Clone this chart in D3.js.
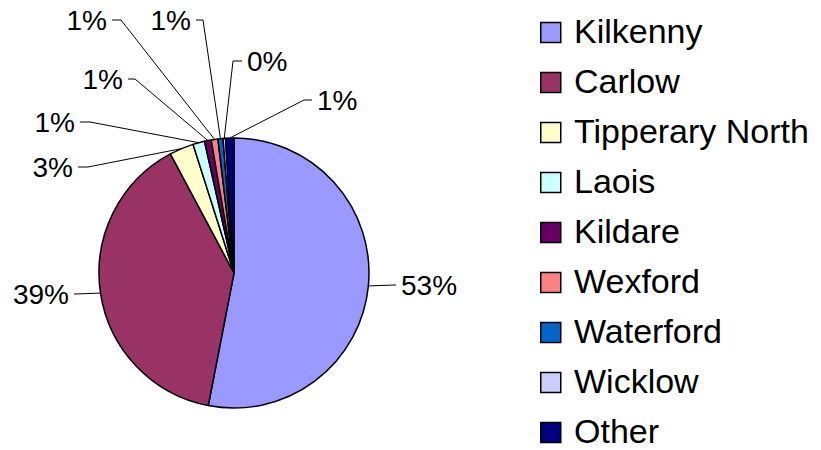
<!DOCTYPE html>
<html>
<head>
<meta charset="utf-8">
<script src="https://cdn.jsdelivr.net/npm/d3@7"></script>
<style>
  body { margin: 0; background: #fff; }
  svg text { font-family: "Liberation Sans", Arial, sans-serif; fill: #000; }
</style>
</head>
<body>
<div id="chart"></div>
<script>
// datos del gráfico
const counties = ['Kilkenny', 'Carlow', 'Tipperary North', 'Laois', 'Kildare', 'Wexford', 'Waterford', 'Wicklow', 'Other'];
const shares = [53.0, 39.1, 2.9, 1.4, 0.8, 0.8, 0.6, 0.3, 1.0];
const colors = ['#9999FF', '#993366', '#FFFFCC', '#CCFFFF', '#660066', '#FF8080', '#0066CC', '#CCCCFF', '#000080'];

const W = 821, H = 450;
const cx = 234, cy = 273, R = 135;

// posición de cada etiqueta: [x texto, y centro, codo x, anclaje]
const labelLayout = [
  [401, 285, 395, 'start'],
  [69, 294, 75, 'end'],
  [73, 167, 88, 'end'],
  [75, 122, 90, 'end'],
  [123, 79, 135, 'end'],
  [107, 20, 121, 'end'],
  [191, 20, 203, 'end'],
  [247, 61, 233, 'start'],
  [317, 100, 304, 'start']
];

const svg = d3.select('#chart').append('svg')
  .attr('width', W).attr('height', H);

const rows = counties.map((c, i) => ({ name: c, value: shares[i], color: colors[i] }));
const total = d3.sum(shares);

const pie = d3.pie().sort(null).value(d => d.value);
const arcs = pie(rows);
const arc = d3.arc().innerRadius(0).outerRadius(R);

const g = svg.append('g').attr('transform', `translate(${cx},${cy})`);

g.selectAll('path.slice')
  .data(arcs)
  .enter().append('path')
  .attr('class', 'slice')
  .attr('d', arc)
  .attr('fill', d => d.data.color)
  .attr('stroke', '#000')
  .attr('stroke-width', 1.5)
  .attr('stroke-linejoin', 'round');

// --- líneas guía y porcentajes ---
const fmt = d3.format('.0%');
arcs.forEach((a, i) => {
  const [tx, ty, ex, anchor] = labelLayout[i];
  const mid = (a.startAngle + a.endAngle) / 2;
  const px = cx + R * Math.sin(mid);
  const py = cy - R * Math.cos(mid);
  const gap = anchor === 'end' ? 5 : -5;
  const lx = tx + gap;
  svg.append('polyline')
    .attr('points', `${px},${py} ${ex},${ty} ${lx},${ty}`)
    .attr('fill', 'none')
    .attr('stroke', '#000')
    .attr('stroke-width', 1);
  svg.append('text')
    .attr('x', tx)
    .attr('y', ty + 10)
    .attr('text-anchor', anchor)
    .attr('font-size', '28px')
    .text(fmt(a.data.value / total));
});

// --- leyenda ---
const legend = svg.append('g').attr('transform', 'translate(540,0)');
const item = legend.selectAll('g.item')
  .data(rows)
  .enter().append('g')
  .attr('class', 'item')
  .attr('transform', (d, i) => `translate(0,${i * 50})`);

item.append('rect')
  .attr('x', 0.75).attr('y', 22.5)
  .attr('width', 20).attr('height', 20)
  .attr('fill', d => d.color)
  .attr('stroke', '#000')
  .attr('stroke-width', 1.5);

item.append('text')
  .attr('x', 34)
  .attr('y', 43)
  .attr('font-size', '34px')
  .text(d => d.name);
</script>
</body>
</html>
